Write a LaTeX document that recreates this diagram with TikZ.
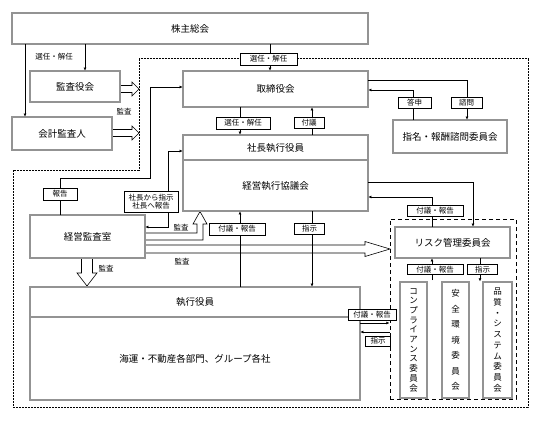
\documentclass[tikz,border=0pt]{standalone}
\usepackage{fontspec}
\newfontfamily\jp{Noto Sans CJK JP}
\usetikzlibrary{arrows.meta}
\tikzset{
  box/.style={draw=black, double=gray!85, double distance=1.3pt, line width=0.55pt, fill=white, inner sep=0pt, font=\jp\fontsize{9.5}{11}\selectfont},
  lbl/.style={draw=black, line width=0.5pt, fill=white, inner sep=0pt, font=\jp\fontsize{7.5}{9}\selectfont},
  plain/.style={inner sep=0pt, font=\jp\fontsize{7.5}{9}\selectfont},
  conn/.style={line width=0.6pt, draw=black},
  arr/.style={conn, -{Latex[length=3.2pt,width=3pt]}},
  barr/.style={conn, {Latex[length=3.2pt,width=3pt]}-{Latex[length=3.2pt,width=3pt]}},
  hollow/.style={draw=black, line width=0.6pt, fill=white, line join=miter},
  dotline/.style={draw=black, line width=0.6pt, dash pattern=on 0.7pt off 0.8pt},
  grpline/.style={draw=black, line width=0.9pt, dash pattern=on 4pt off 3pt},
}
\begin{document}
\begin{tikzpicture}[x=1pt,y=-1pt]
\useasboundingbox (0,0) rectangle (546,423);

% column / row helper coordinates
\coordinate (x25) at (25,0);
\coordinate (x60) at (60,0);
\coordinate (x85) at (85,0);
\coordinate (x150) at (150,0);
\coordinate (x168) at (168,0);
\coordinate (x240) at (240,0);
\coordinate (x270) at (270,0);
\coordinate (x312) at (312,0);
\coordinate (x413) at (413,0);
\coordinate (x432) at (432,0);
\coordinate (x467) at (467,0);
\coordinate (x473) at (473,0);
\coordinate (x480) at (480,0);
\coordinate (y80) at (0,80);
\coordinate (y87) at (0,87);
\coordinate (y90) at (0,90);
\coordinate (y151) at (0,151);
\coordinate (y178) at (0,178);
\coordinate (y182) at (0,182);
\coordinate (y197) at (0,197);
\coordinate (y227) at (0,227);
\coordinate (y323) at (0,323);
\coordinate (y332) at (0,332);

% dotted boundary
\draw[dotline] (139,58) -- (528,58) -- (528,407) -- (13,407) -- (13,170) -- (139,170) -- cycle;

% dashed risk group
\node[grpline, minimum width=126pt, minimum height=180pt, inner sep=0pt] (grp) at (453,309) {};

% hollow arrows
\draw[hollow] (120,85.5) -- (132,85.5) -- (132,82) -- (139,89) -- (132,96) -- (132,92.5) -- (120,92.5);
\draw[hollow] (112,129.5) -- (132,129.5) -- (132,126) -- (139,133) -- (132,140) -- (132,136.5) -- (112,136.5);
\draw[hollow] (145,245) -- (365,245) -- (365,241.5) -- (390,249) -- (365,256.5) -- (365,253) -- (145,253);
\draw[hollow] (81.5,258) -- (81.5,273) -- (77,273) -- (87,286) -- (97,273) -- (92.5,273) -- (92.5,258);
\draw[hollow] (145,233) -- (197,233) -- (197,224) -- (193,224) -- (200,211.5) -- (207,224) -- (203,224) -- (203,240) -- (145,240);

% boxes
\node[box, minimum width=356pt, minimum height=31pt] (kabu) at (190,28.5) {株主総会};
\node[box, minimum width=90pt, minimum height=31pt] (kansayaku) at (75,86.5) {監査役会};
\node[box, minimum width=100pt, minimum height=33pt] (kaikei) at (62,133.5) {会計監査人};
\node[box, minimum width=185pt, minimum height=36pt] (tori) at (275.5,89) {取締役会};
\node[box, minimum width=114pt, minimum height=33pt] (shimei) at (450,136.5) {指名・報酬諮問委員会};
\node[box, minimum width=185pt, minimum height=51pt] (keiei) at (275.5,185.5) {経営執行協議会};
\node[box, minimum width=185pt, minimum height=25pt] (shacho) at (275.5,147.5) {社長執行役員};
\node[box, minimum width=115pt, minimum height=43pt] (kansashitsu) at (87.5,236.5) {経営監査室};
\node[box, minimum width=330pt, minimum height=83pt] (kaiun) at (195,358.5) {海運・不動産各部門、グループ各社};
\node[box, minimum width=330pt, minimum height=30pt] (shikko) at (195,302) {執行役員};
\node[box, minimum width=115pt, minimum height=31pt] (risk) at (452.5,242.5) {リスク管理委員会};
\node[box, minimum width=27pt, minimum height=116pt, align=center, font=\jp\fontsize{8.5}{9.7}\selectfont] (comp) at (413.5,340)
  {コ\\ン\\プ\\ラ\\イ\\ア\\ン\\ス\\委\\員\\会};
\node[box, minimum width=27pt, minimum height=116pt, align=center, font=\jp\fontsize{8.5}{15.5}\selectfont] (anzen) at (455.5,340)
  {安\\全\\環\\境\\委\\員\\会};
\node[box, minimum width=29pt, minimum height=116pt, align=center, font=\jp\fontsize{8.5}{10.7}\selectfont] (hin) at (497.5,340)
  {品\\質\\・\\シ\\ス\\テ\\ム\\委\\員\\会};

% connectors
\draw[arr] (kabu.south -| x25) -- (kaikei.north -| x25);
\draw[arr] (kabu.south -| x85) -- (kansayaku.north -| x85);
\draw[arr] (kabu.south -| x270) -- (tori.north -| x270);
\draw[arr] (tori.south -| x240) -- (shacho.north -| x240);
\draw[arr] (shacho.north -| x312) -- (tori.south -| x312);
\draw[arr] (tori.east |- y80) -| (shimei.north -| x467);
\draw[arr] (shimei.north -| x413) |- (tori.east |- y90);
\draw[arr] (kansashitsu.north -| x60) |- (x150 |- y178) |- (tori.west |- y87);
\draw[barr] (kansashitsu.east |- y227) -| (x168 |- y151) -- (shacho.west |- y151);
\draw[arr] (shikko.north -| x240) -- (keiei.south -| x240);
\draw[arr] (keiei.south -| x312) -- (shikko.north -| x312);
\draw[arr] (keiei.east |- y182) -| (risk.north -| x473);
\draw[arr] (risk.north -| x432) |- (keiei.east |- y197);
\coordinate (stubA) at (432,280);
\draw[arr] (stubA) -- (risk.south -| stubA);
\coordinate (stubB) at (480,281.5);
\draw[arr] (risk.south -| stubB) -- (stubB);
\draw[arr] (kaiun.east |- y323) -- (grp.west |- y323);
\draw[arr] (grp.west |- y332) -- (kaiun.east |- y332);

% boxed labels
\node[lbl, minimum width=57pt, minimum height=12pt] (l1) at (268.5,59) {選任・解任};
\node[lbl, minimum width=54pt, minimum height=12pt] (l2) at (243,123) {選任・解任};
\node[lbl, minimum width=30pt, minimum height=11pt] (l3) at (309,123) {付議};
\node[lbl, minimum width=33pt, minimum height=11pt] (l4) at (414.5,102.5) {答申};
\node[lbl, minimum width=31pt, minimum height=11pt] (l5) at (466.5,102.5) {諮問};
\node[lbl, minimum width=34pt, minimum height=12pt] (l6) at (60,194) {報告};
\node[lbl, minimum width=54pt, minimum height=21pt, align=center, font=\jp\fontsize{7.5}{8.5}\selectfont] (l7) at (151,201.5) {社長から指示\\社長へ報告};
\node[lbl, minimum width=56pt, minimum height=12pt] (l8) at (237,229) {付議・報告};
\node[lbl, minimum width=30pt, minimum height=11pt] (l9) at (309.5,228.5) {指示};
\node[lbl, minimum width=56pt, minimum height=11pt] (l10) at (435,211) {付議・報告};
\node[lbl, minimum width=56pt, minimum height=10pt] (l11) at (435,269.5) {付議・報告};
\node[lbl, minimum width=30pt, minimum height=10pt] (l12) at (482.5,269.5) {指示};
\node[lbl, minimum width=48pt, minimum height=11pt] (l13) at (372,315) {付議・報告};
\node[lbl, minimum width=25pt, minimum height=10pt] (l14) at (378,341) {指示};

% plain labels
\node[plain] (p1) at (54,57) {選任・解任};
\node[plain] (p2) at (124,112) {監査};
\node[plain] (p3) at (181,227.5) {監査};
\node[plain] (p4) at (182,262) {監査};
\node[plain] (p5) at (106,269) {監査};
\end{tikzpicture}
\end{document}
